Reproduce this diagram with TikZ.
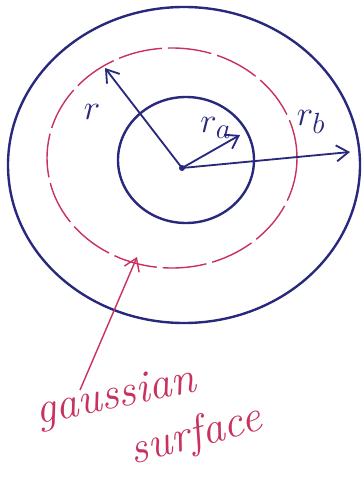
\documentclass[tikz,border=0pt]{standalone}
\usetikzlibrary{arrows.meta}

\definecolor{inkblue}{RGB}{40,40,125}
\definecolor{inkred}{RGB}{200,50,95}

\begin{document}
\begin{tikzpicture}[
    x=0.025cm, y=-0.025cm,
    bluepen/.style={draw=inkblue, line width=1.7pt},
    redpen/.style={draw=inkred, line width=1pt},
    gaussline/.style={redpen, dash pattern=on 1.1cm off 0.15cm},
    radius arrow/.style={bluepen, line width=1.3pt, -{Straight Barb[length=3mm, width=4mm]}},
    label/.style={text=inkblue, font=\fontsize{32}{36}\selectfont},
    note/.style={text=inkred, font=\itshape\fontsize{32}{36}\selectfont}
]
    \useasboundingbox (0,0) rectangle (362,479);

    % centre and arrow ends
    \coordinate (O) at (182,168);
    \coordinate (R) at (105,68);
    \coordinate (Ra) at (240,135);
    \coordinate (Rb) at (350,152);

    % spheres
    \draw[bluepen] (184,165) ellipse [x radius=176, y radius=158];
    \draw[bluepen] (186,160) ellipse [x radius=68, y radius=63];

    % Gaussian surface
    \draw[gaussline] (172,158) ellipse [x radius=125, y radius=110];

    \fill[inkblue] (O) circle (3);

    % radii
    \draw[radius arrow] (O) -- (R);
    \draw[radius arrow] (O) -- (Ra);
    \draw[radius arrow] (O) -- (Rb);

    \node[label] (lr) at (92,112) {$r$};
    \node[label] (lra) at (216,128) {$r_a$};
    \node[label] (lrb) at (311,122) {$r_b$};

    % label of the surface
    \coordinate (G) at (137,257);
    \node[note, rotate=12] (gauss) at (116,398) {gaussian};
    \node[note, rotate=15] (surf) at (196,436) {surface};
    \draw[redpen, -{Straight Barb[length=3mm, width=4mm]}] (80,390) -- (G);

\end{tikzpicture}
\end{document}
